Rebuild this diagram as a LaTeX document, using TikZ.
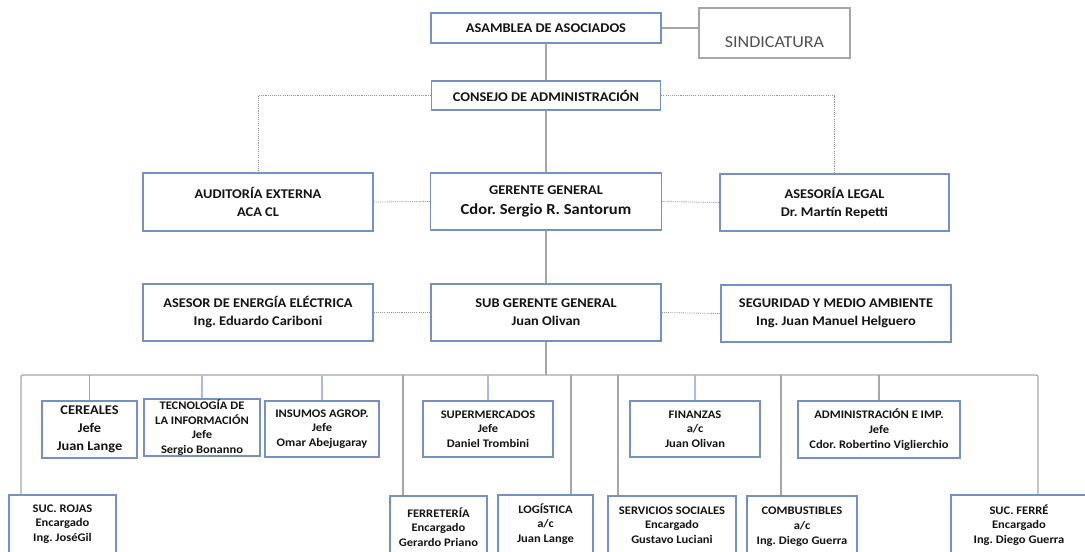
\documentclass[tikz,border=0pt]{standalone}
\usepackage{fontspec}
\setmainfont[FakeStretch=1.08]{Carlito}
\frenchspacing
\definecolor{boxblue}{RGB}{115,145,195}
\definecolor{linegray}{RGB}{166,166,166}
\definecolor{lineblue}{RGB}{168,188,224}
\definecolor{dotgray}{RGB}{150,150,150}
\definecolor{textc}{RGB}{20,20,20}
\definecolor{sindgray}{RGB}{80,80,80}
\tikzset{
  sz/.style 2 args={minimum width=#1*0.75pt, minimum height=#2*0.75pt},
  box/.style={draw=boxblue, line width=1.1pt, fill=white, inner sep=0pt, align=center,
    text=textc, font=\bfseries\fontsize{10}{13.5}\selectfont},
  bigtxt/.style={font=\bfseries\fontsize{10}{13.5}\selectfont},
  smalltxt/.style={font=\bfseries\fontsize{8.7}{11}\selectfont},
  sindbox/.style={draw=linegray, line width=1.2pt, fill=white, inner sep=0pt,
    text=sindgray, font=\fontsize{12.5}{14}\selectfont, text height=21pt, text depth=0pt},
  conn/.style={draw=linegray, line width=0.9pt},
  connb/.style={draw=lineblue, line width=0.9pt},
  dotc/.style={draw=dotgray, line width=0.6pt, dash pattern=on 0.8pt off 0.8pt}
}
\begin{document}
\begin{tikzpicture}[x=0.75pt,y=-0.75pt]
\useasboundingbox (0,0) rectangle (1085,551);
\clip (0,0) rectangle (1085,551);
\fill[white] (0,0) rectangle (1085,551);

% top levels
\node[box, sz={230}{30}] (asam) at (546,28) {ASAMBLEA DE ASOCIADOS};
\node[sindbox, sz={151}{50}] (sind) at (774.5,33) {SINDICATURA};
\node[box, sz={229}{29}] (cons) at (546,95.5) {CONSEJO DE ADMINISTRACIÓN};
\node[box, sz={230}{58}] (aud) at (258,202) {AUDITORÍA EXTERNA\\ACA CL};
\node[box, sz={231}{57}] (ger) at (546,201.5) {GERENTE GENERAL\\[1pt]{\fontsize{11.5}{14}\selectfont Cdor. Sergio R. Santorum}};
\node[box, sz={229}{57}] (leg) at (834.5,202.5) {ASESORÍA LEGAL\\Dr. Martín Repetti};
\node[box, sz={230}{57}] (ene) at (258,312.5) {ASESOR DE ENERGÍA ELÉCTRICA\\Ing. Eduardo Cariboni};
\node[box, sz={230}{57}] (sub) at (546,312.5) {SUB GERENTE GENERAL\\Juan Olivan};
\node[box, sz={230}{57}] (seg) at (836,313.5) {SEGURIDAD Y MEDIO AMBIENTE\\Ing. Juan Manuel Helguero};

% departments
\node[box, bigtxt, sz={95}{57}] (cer) at (89.5,429.5) {CEREALES\\Jefe\\Juan Lange};
\node[box, smalltxt, sz={116}{57}] (tec) at (202,427.5) {TECNOLOGÍA DE\\LA INFORMACIÓN\\Jefe\\Sergio Bonanno};
\node[box, smalltxt, sz={114}{56}] (ins) at (322,429) {INSUMOS AGROP.\\Jefe\\Omar Abejugaray};
\node[box, smalltxt, sz={130}{56}] (sup) at (488,429) {SUPERMERCADOS\\Jefe\\Daniel Trombini};
\node[box, smalltxt, sz={130}{56}] (fin) at (695,429) {FINANZAS\\a/c\\Juan Olivan};
\node[box, smalltxt, sz={162}{57}] (adm) at (879,429.5) {ADMINISTRACIÓN E IMP.\\Jefe\\Cdor. Robertino Viglierchio};
\node[box, smalltxt, sz={107}{58}] (roj) at (62.5,524) {SUC. ROJAS\\Encargado\\Ing. JoséGil};
\node[box, smalltxt, sz={97}{62}] (fer) at (438.5,527) {FERRETERÍA\\Encargado\\Gerardo Priano};
\node[box, smalltxt, sz={95}{58}] (log) at (545.5,524) {LOGÍSTICA\\a/c\\Juan Lange};
\node[box, smalltxt, sz={128}{58}] (ser) at (672,525) {SERVICIOS SOCIALES\\Encargado\\Gustavo Luciani};
\node[box, smalltxt, sz={110}{61}] (com) at (802,526.5) {COMBUSTIBLES\\a/c\\Ing. Diego Guerra};
\node[box, smalltxt, sz={136}{60}] (sfe) at (1019,525) {SUC. FERRÉ\\Encargado\\Ing. Diego Guerra};

% coordinates
\coordinate (bus) at (546,375);
\coordinate (dRoj) at (21,375);
\coordinate (dFer) at (403,375);
\coordinate (dLog) at (571,375);
\coordinate (dSer) at (618,375);
\coordinate (dCom) at (781,375);
\coordinate (dSfe) at (1038,375);

% main line
\draw[conn, line width=1.1pt] (asam.south) -- (cons.north);
\draw[conn, line width=1.1pt] (cons.south) -- (ger.north);
\draw[conn, line width=1.1pt] (ger.south) -- (sub.north);
\draw[conn, line width=1.1pt] (sub.south) -- (bus);
\draw[conn, line width=1.4pt] (asam.east) -- (sind.west |- asam.east);

% dotted staff lines
\draw[dotc] (cons.west) -- (aud.north |- cons.west) -- (aud.north);
\draw[dotc] (cons.east) -- (leg.north |- cons.east) -- (leg.north);
\draw[dotc] (aud.east) -- (ger.west);
\draw[dotc] (ger.east) -- (leg.west);
\draw[dotc] (ene.east) -- (sub.west);
\draw[dotc] (sub.east) -- (seg.west);

% bus
\draw[conn, rounded corners=1.5pt] (dRoj |- roj.north) -- (dRoj) -- (dSfe) -- (dSfe |- sfe.north);
\draw[conn] (cer.north |- bus) -- (cer.north);
\draw[connb] (tec.north |- bus) -- (tec.north);
\draw[connb] (ins.north |- bus) -- (ins.north);
\draw[connb] (sup.north |- bus) -- (sup.north);
\draw[connb] (fin.north |- bus) -- (fin.north);
\draw[conn] (adm.north |- bus) -- (adm.north);
\draw[conn] (dFer) -- (dFer |- fer.north);
\draw[conn] (dLog) -- (dLog |- log.north);
\draw[conn] (dSer) -- (dSer |- ser.north);
\draw[conn] (dCom) -- (dCom |- com.north);
\end{tikzpicture}
\end{document}
